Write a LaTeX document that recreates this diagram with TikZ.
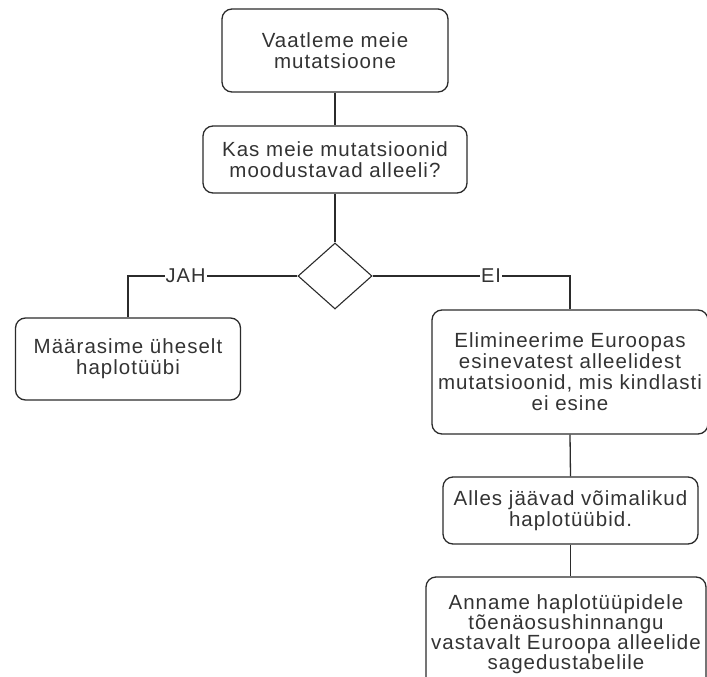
\documentclass[tikz,border=0pt]{standalone}
\usepackage{fontspec}
\setmainfont{Liberation Sans}[LetterSpace=5]
\usetikzlibrary{shapes.geometric}
\definecolor{ink}{HTML}{2B2B2B}
\definecolor{txt}{HTML}{333333}
\begin{document}
\begin{tikzpicture}[x=1pt,y=-1pt,
  box/.style={draw=ink, rounded corners=10pt, line width=1.3pt, align=center, inner sep=0pt,
    text=txt, font=\fontsize{20.5}{21}\selectfont},
  dec/.style={draw=ink, diamond, line width=1.1pt, inner sep=0pt, minimum width=74pt, minimum height=66pt},
  conn/.style={draw=ink, line width=1.3pt},
  lbl/.style={fill=white, text=txt, inner sep=1pt, font=\fontsize{20}{21}\selectfont}]
\useasboundingbox (0,0) rectangle (707,677);
\node[box, minimum width=226pt, minimum height=83pt] (b1) at (335,50.5) {Vaatleme meie\\mutatsioone};
\node[box, minimum width=264pt, minimum height=67pt] (b2) at (335,159.5) {Kas meie mutatsioonid\\moodustavad alleeli?};
\node[dec] (d) at (335,276) {};
\node[box, minimum width=225pt, minimum height=82pt] (b3) at (128,359) {Määrasime üheselt\\haplotüübi};
\node[box, minimum width=276pt, minimum height=124pt] (b4) at (570,372) {Elimineerime Euroopas\\esinevatest alleelidest\\mutatsioonid, mis kindlasti\\ei esine};
\node[box, minimum width=255pt, minimum height=67pt] (b5) at (570.5,510.5) {Alles jäävad võimalikud\\haplotüübid.};
\node[box, minimum width=280pt, minimum height=114pt, font=\fontsize{20.5}{20}\selectfont] (b6) at (566,634) {Anname haplotüüpidele\\tõenäosushinnangu\\vastavalt Euroopa alleelide\\sagedustabelile};
\draw[conn] (b1.south) -- (b2.north);
\draw[conn] (b2.south) -- (d.north);
\draw[conn] (d.west) -| (b3.north) node[lbl, pos=0.33] {JAH};
\draw[conn] (d.east) -| (b4.north) node[lbl, pos=0.3] {EI};
\draw[conn] (b4.south) -- (b5.north);
\draw[conn] (b5.south) -- (b5.south |- b6.north);
\end{tikzpicture}
\end{document}
